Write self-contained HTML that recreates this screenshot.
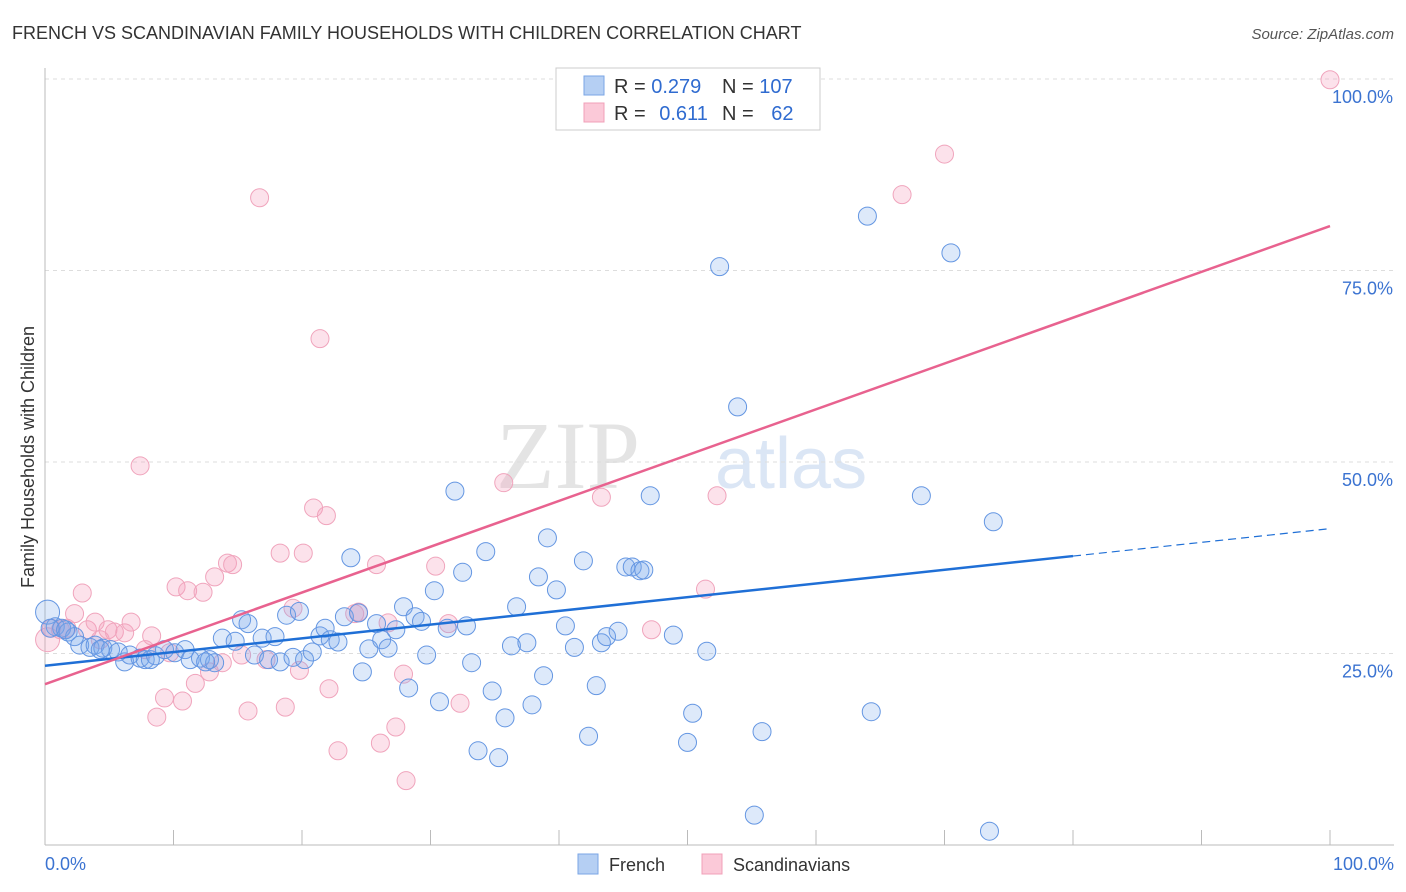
<!DOCTYPE html>
<html><head><meta charset="utf-8"><style>
body{margin:0;background:#fff;font-family:"Liberation Sans",sans-serif;}
#wrap{position:relative;width:1406px;height:892px;overflow:hidden;}
</style></head><body>
<div id="wrap">
<svg id="svg" width="1406" height="892" xmlns="http://www.w3.org/2000/svg">
<text x="12" y="39" font-size="18" fill="#333">FRENCH VS SCANDINAVIAN FAMILY HOUSEHOLDS WITH CHILDREN CORRELATION CHART</text>
<text x="1394" y="39" font-size="15" fill="#555" font-style="italic" text-anchor="end">Source: ZipAtlas.com</text>
<text x="640" y="488" font-size="96" fill="#e4e4e4" text-anchor="end" font-family="Liberation Serif,serif">ZIP</text>
<text x="715" y="488" font-size="72" fill="#dbe6f5">atlas</text>
<text transform="translate(34,457) rotate(-90)" font-size="18" fill="#333" text-anchor="middle">Family Households with Children</text>
<g id="grid"></g><g id="pts"></g><g id="lines"></g>
<g>
<rect x="556" y="68" width="264" height="62" fill="#fff" stroke="#ccc"/>
<rect x="584" y="76" width="20" height="19" fill="#b5cff3" stroke="#7aa6e6"/>
<rect x="584" y="103" width="20" height="19" fill="#fbc9d8" stroke="#f0a0b8"/>
<text x="614" y="93" font-size="20" fill="#333">R = <tspan fill="#2f6bd0">0.279</tspan></text>
<text x="722" y="93" font-size="20" fill="#333">N = <tspan fill="#2f6bd0">107</tspan></text>
<text x="614" y="120" font-size="20" fill="#333">R = <tspan fill="#2f6bd0" dx="8">0.611</tspan></text>
<text x="722" y="120" font-size="20" fill="#333">N = <tspan fill="#2f6bd0" dx="12">62</tspan></text>
</g>
<g>
<rect x="578" y="854" width="20" height="20" fill="#b5cff3" stroke="#7aa6e6"/>
<text x="609" y="871" font-size="18" fill="#333">French</text>
<rect x="702" y="854" width="20" height="20" fill="#fbc9d8" stroke="#f0a0b8"/>
<text x="733" y="871" font-size="18" fill="#333">Scandinavians</text>
</g>
<text x="45" y="870" font-size="18" fill="#3b73d1">0.0%</text>
<text x="1394" y="870" font-size="18" fill="#3b73d1" text-anchor="end">100.0%</text>
</svg>
</div>
<script>
const blueX=[0.2,0.8,1.3,1.8,2.3,2.7,3.5,3.9,4.5,5.1,5.7,6.2,6.6,7.4,7.8,8.6,9.3,10.1,10.9,11.3,12.1,12.8,13.2,13.8,14.8,15.3,15.8,16.3,16.9,17.4,17.9,18.3,18.8,19.3,19.8,20.2,20.8,21.4,21.8,22.2,22.8,23.3,23.8,24.4,24.7,25.2,25.8,26.2,26.7,27.3,27.9,28.3,28.8,29.3,29.7,30.3,30.7,31.3,31.9,32.5,32.8,33.2,33.7,34.3,34.8,35.3,35.8,36.3,36.7,37.5,37.9,38.4,38.8,39.1,39.8,40.5,41.2,41.9,42.3,42.9,43.3,43.7,44.6,45.2,45.7,46.3,46.6,47.1,48.9,50.0,50.4,51.5,52.5,53.9,55.2,55.8,64.0,64.3,68.2,70.5,73.5,73.8,0.4,1.6,4.3,8.2,12.5];
const blueY=[30.4,28.5,28.3,27.8,27.2,26.1,25.8,26.1,25.7,25.5,25.2,23.9,24.8,24.4,24.2,24.7,25.5,25.1,25.5,24.2,24.4,24.2,23.8,27.0,26.6,29.4,28.9,24.8,27.0,24.2,27.2,23.9,30.0,24.5,30.5,24.2,25.2,27.3,28.3,26.8,26.5,29.8,37.5,30.3,22.6,25.6,28.9,26.8,25.7,28.1,31.1,20.5,29.8,29.2,24.8,33.2,18.7,28.3,46.2,35.6,28.6,23.8,12.3,38.3,20.1,11.4,16.6,26.0,31.1,26.4,18.3,35.0,22.1,40.1,33.3,28.6,25.8,37.1,14.2,20.8,26.4,27.2,27.9,36.3,36.3,35.8,35.9,45.6,27.4,13.4,17.2,25.3,75.5,57.2,3.9,14.8,82.1,17.4,45.6,77.3,1.8,42.2,28.3,28.1,25.5,24.2,23.9];
const pinkX=[0.2,0.5,1.2,1.7,2.3,2.9,3.3,3.9,4.3,4.9,5.4,6.2,6.7,7.4,7.8,8.3,8.7,9.3,9.7,10.2,10.7,11.1,11.7,12.3,12.8,13.2,13.8,14.2,14.6,15.3,15.8,16.7,17.2,18.3,18.7,19.3,19.8,20.1,20.9,21.4,21.9,22.1,22.8,24.1,24.4,25.8,26.1,26.7,27.3,27.9,28.1,30.4,31.4,32.3,35.7,43.3,47.2,51.4,52.3,66.7,70.0,100];
const pinkY=[26.8,28.3,28.1,28.3,30.2,32.9,28.1,29.1,26.8,28.1,27.8,27.7,29.1,49.5,25.5,27.3,16.7,19.2,25.1,33.7,18.8,33.2,21.1,33.0,22.6,35.0,23.8,36.8,36.6,24.8,17.5,84.5,24.2,38.1,18.0,30.9,22.8,38.1,44.0,66.1,43.0,20.4,12.3,30.2,30.4,36.6,13.3,29.0,15.4,22.3,8.4,36.4,28.9,18.5,47.3,45.4,28.1,33.4,45.6,84.9,90.2,99.9];
const blueTrend=[23.4,0.179]; // intercept, slope
const pinkTrend=[21.0,0.598];
const yTicks=[25,50,75,100];
const xTicks=[0,10,20,30,40,50,60,70,80,90,100];
const NS="http://www.w3.org/2000/svg";
const X=v=>45+v*12.85, Y=v=>845-v*7.66;
function mk(tag,attrs,parent){const e=document.createElementNS(NS,tag);for(const k in attrs)e.setAttribute(k,attrs[k]);parent.appendChild(e);return e;}
const grid=document.getElementById('grid'),pts=document.getElementById('pts'),lines=document.getElementById('lines'),svg=document.getElementById('svg');
yTicks.forEach(t=>{
 const l=mk('line',{x1:45,x2:1394,y1:Y(t),y2:Y(t),stroke:'#ddd','stroke-dasharray':'4,4'},grid);
 
 
 const tx=mk('text',{x:1393,y:Y(t)+24,'font-size':18,fill:'#3b73d1','text-anchor':'end'},svg);
 tx.textContent=t.toFixed(1)+'%';
 
 
});
mk('line',{x1:45,x2:45,y1:68,y2:845,stroke:'#bbb'},grid);
mk('line',{x1:45,x2:1394,y1:845,y2:845,stroke:'#bbb'},grid);
xTicks.forEach(t=>{
 const l=mk('line',{x1:X(t),x2:X(t),y1:830,y2:845,stroke:'#bbb'},grid);
 
 
});
function dots(xs,ys,fill,stroke,name){
 xs.forEach((x,i)=>{
  const c=mk('circle',{cx:X(x),cy:Y(ys[i]),r:i===0?12:9,fill:fill,stroke:stroke,'stroke-width':1},pts);
  
  
 });
}
dots(pinkX,pinkY,'rgba(245,160,188,0.3)','#f0a4bc','scandinavian-point');
dots(blueX,blueY,'rgba(120,168,235,0.25)','#6496e2','french-point');
const bl=mk('line',{x1:X(0),y1:Y(blueTrend[0]),x2:X(80),y2:Y(blueTrend[0]+blueTrend[1]*80),stroke:'#1f6fd6','stroke-width':2.5},lines);


const bd=mk('line',{x1:X(80),y1:Y(blueTrend[0]+blueTrend[1]*80),x2:X(100),y2:Y(blueTrend[0]+blueTrend[1]*100),stroke:'#1f6fd6','stroke-width':1.2,'stroke-dasharray':'8,5'},lines);


const pl=mk('line',{x1:X(0),y1:Y(pinkTrend[0]),x2:X(100),y2:Y(pinkTrend[0]+pinkTrend[1]*100),stroke:'#e8628f','stroke-width':2.5},lines);


</script>
</body></html>
